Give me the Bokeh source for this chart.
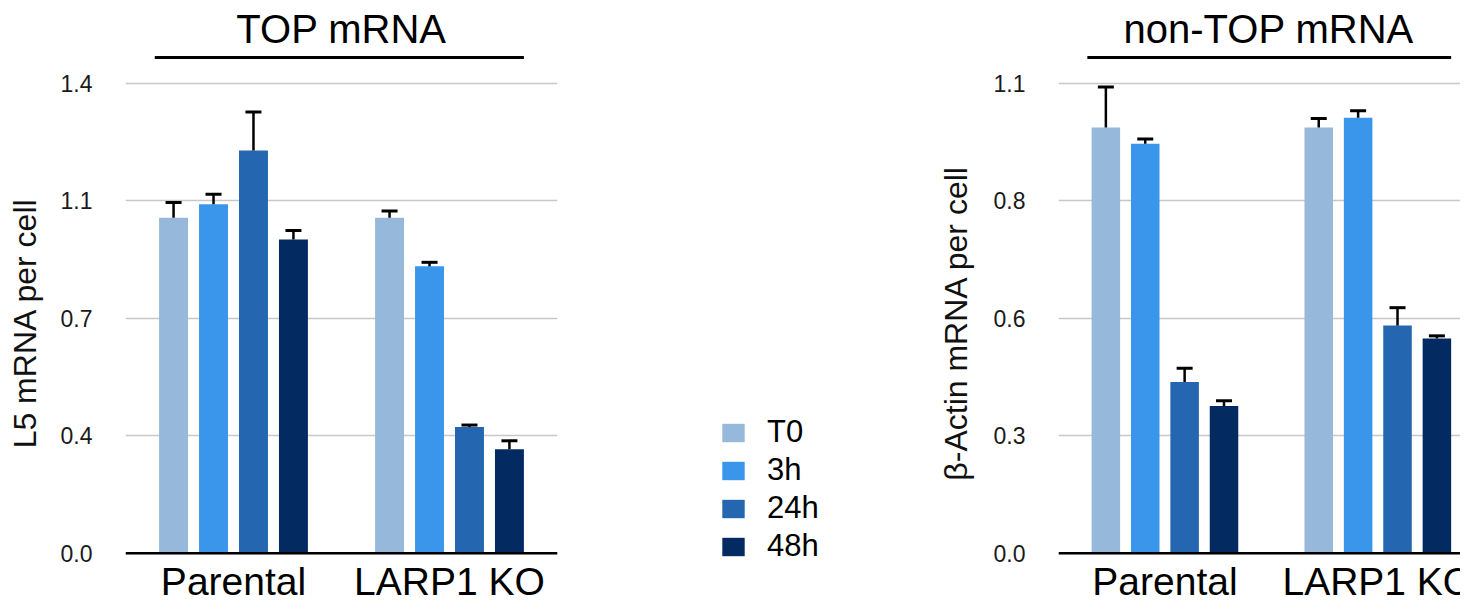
from bokeh.plotting import figure
from bokeh.models import (ColumnDataSource, Range1d, FixedTicker, Whisker, TeeHead,
                          Span, Legend, LegendItem, Title)
from bokeh.layouts import row
from bokeh.embed import file_html
from bokeh.resources import INLINE
from bokeh.core.properties import value

# ---------------- data ----------------
groups = ["Parental", "LARP1 KO"]
timepoints = ["T0", "3h", "24h", "48h"]
colors = ["#96B8DB", "#3A96EB", "#2466AF", "#032B61"]

top_parental = [1.000, 1.040, 1.200, 0.935]
top_parental_err = [0.045, 0.030, 0.115, 0.027]
top_larp1ko = [1.000, 0.855, 0.376, 0.310]
top_larp1ko_err = [0.020, 0.012, 0.006, 0.025]

nontop_parental = [0.997, 0.959, 0.401, 0.345]
nontop_parental_err = [0.095, 0.011, 0.032, 0.012]
nontop_larp1ko = [0.997, 1.020, 0.533, 0.503]
nontop_larp1ko_err = [0.021, 0.016, 0.042, 0.006]

top_ticks = [0.0, 0.35, 0.70, 1.05, 1.40]
top_tick_labels = ["0.0", "0.4", "0.7", "1.1", "1.4"]
nontop_ticks = [0.0, 0.275, 0.55, 0.825, 1.10]
nontop_tick_labels = ["0.0", "0.3", "0.6", "0.8", "1.1"]

# ---------------- layout constants (canvas pixels) ----------------
FONT = "Liberation Sans"
H = 595
FRAME_TOP = 50        # space above the frame for the panel title
BASE_PX = 552.7       # canvas y of value 0
TOPTICK_PX = 83.0     # canvas y of top tick
RULE_PX = 57.0
GLABEL_TOP_PX = 559.0
BAR_PITCH = 0.185
BAR_W = 0.134


def panel(title, ylabel, par, par_err, ko, ko_err, ticks, tick_labels,
          width, border_left, border_right, x_end, label_standoff,
          title_align, title_offset):
    ppu = (BASE_PX - TOPTICK_PX) / ticks[-1]
    y_start = -(H - BASE_PX) / ppu
    y_end = (BASE_PX - FRAME_TOP) / ppu
    p = figure(width=width, height=H, x_range=Range1d(-0.5, x_end),
               y_range=Range1d(y_start, y_end), output_backend="svg",
               toolbar_location=None, x_axis_location=None,
               min_border_left=border_left, min_border_right=border_right,
               min_border_top=FRAME_TOP, min_border_bottom=0)
    p.outline_line_color = None
    p.background_fill_color = "white"
    p.border_fill_color = "white"
    p.xgrid.grid_line_color = None

    p.title = Title(text=title, align=title_align, offset=title_offset,
                    standoff=0, text_font=FONT, text_font_size="40px",
                    text_font_style="normal", text_color="black")

    ax = p.yaxis[0]
    ax.ticker = FixedTicker(ticks=ticks)
    ax.major_label_overrides = {t: l for t, l in zip(ticks, tick_labels)}
    ax.axis_line_color = None
    ax.major_tick_line_color = None
    ax.minor_tick_line_color = None
    ax.major_label_text_font = FONT
    ax.major_label_text_font_size = "23px"
    ax.major_label_text_color = "#1a1a1a"
    ax.major_label_standoff = 27
    ax.axis_label = ylabel
    ax.axis_label_text_font = FONT
    ax.axis_label_text_font_size = "32px"
    ax.axis_label_text_font_style = "normal"
    ax.axis_label_text_color = "#111111"
    ax.axis_label_standoff = label_standoff
    p.ygrid.grid_line_color = "#c8c8c8"
    p.ygrid.grid_line_width = 1.5

    n = len(timepoints)
    for i, (tp, c) in enumerate(zip(timepoints, colors)):
        off = (i - (n - 1) / 2) * BAR_PITCH
        xs = [g + off for g in range(len(groups))]
        vals = [par[i], ko[i]]
        errs = [par_err[i], ko_err[i]]
        src = ColumnDataSource(dict(x=xs, top=vals,
                                    upper=[v + e for v, e in zip(vals, errs)]))
        p.vbar(x="x", top="top", bottom=0, width=BAR_W, source=src,
               fill_color=c, line_color=None)
        w = Whisker(base="x", upper="upper", lower="top", source=src,
                    dimension="height", line_color="black", line_width=2.5,
                    upper_head=TeeHead(size=16, line_width=3, line_color="black"),
                    lower_head=None, level="overlay")
        p.add_layout(w)

    p.add_layout(Span(location=0, dimension="width", line_color="black",
                      line_width=2.5))

    # group labels under the baseline
    p.text(x=list(range(len(groups))), y=[(BASE_PX - GLABEL_TOP_PX) / ppu] * len(groups),
           text=groups, text_align="center", text_baseline="top",
           text_font=value(FONT), text_font_size="39px", text_color="black")

    # bracket rule under the title, spanning the outer bar edges
    edge = (n - 1) / 2 * BAR_PITCH + BAR_W / 2
    ry = (BASE_PX - RULE_PX) / ppu
    p.segment(x0=[-edge - 0.02], x1=[len(groups) - 1 + edge], y0=[ry], y1=[ry],
              line_color="black", line_width=3)
    return p


f1 = panel("TOP mRNA", "L5 mRNA per cell", top_parental, top_parental_err,
           top_larp1ko, top_larp1ko_err, top_ticks, top_tick_labels,
           width=568, border_left=125, border_right=11, x_end=1.5,
           label_standoff=15, title_align="center", title_offset=0)

f3 = panel("non-TOP mRNA", "\u03b2-Actin mRNA per cell", nontop_parental,
           nontop_parental_err, nontop_larp1ko, nontop_larp1ko_err,
           nontop_ticks, nontop_tick_labels,
           width=526, border_left=120, border_right=0, x_end=-0.5 + 406 / 215,
           label_standoff=17, title_align="left", title_offset=65)

# legend panel
f2 = figure(width=366, height=H, x_range=Range1d(0, 1), y_range=Range1d(0, 1),
            output_backend="svg", toolbar_location=None,
            x_axis_location=None, y_axis_location=None,
            min_border_left=0, min_border_right=0, min_border_top=0,
            min_border_bottom=0)
f2.outline_line_color = None
f2.xgrid.grid_line_color = None
f2.ygrid.grid_line_color = None
items = []
for tp, c in zip(timepoints, colors):
    # swatch-only renderer; its single point lies far outside the visible range
    r = f2.vbar(x=[-50], top=[-50], bottom=[-51], width=0.1, fill_color=c,
                line_color=None)
    items.append(LegendItem(label=tp, renderers=[r]))
legend = Legend(items=items, location=(151, 31), glyph_width=28, glyph_height=23,
                label_text_font=FONT, label_text_font_size="31px",
                label_text_color="black", label_standoff=20, spacing=2,
                padding=0, margin=0, border_line_color=None,
                background_fill_alpha=0)
f2.add_layout(legend)

layout = row(f1, f2, f3)
open("out.html", "w").write(file_html(layout, INLINE))
